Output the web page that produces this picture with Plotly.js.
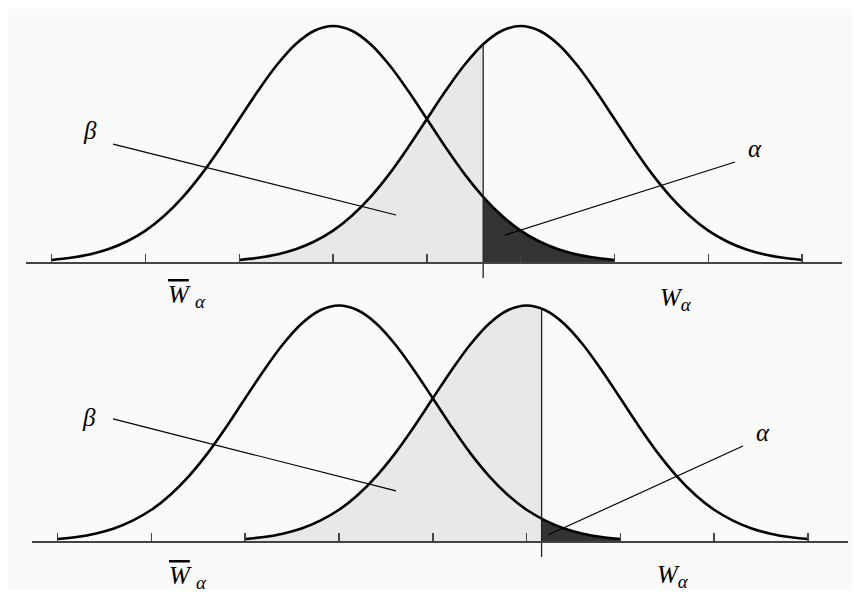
<!DOCTYPE html>
<html>
<head>
<meta charset="utf-8">
<script src="https://cdn.plot.ly/plotly-3.0.1.min.js"></script>
<style>
  html, body { margin: 0; padding: 0; background: #fff; }
  #chart { width: 860px; height: 598px; }
</style>
</head>
<body>
<div id="chart"></div>
<script>
// curve shape: offset from the mean (in sd units) and height relative to the peak
const offsets = [-3.0, -2.8, -2.6, -2.4, -2.2, -2.0, -1.8, -1.6, -1.4, -1.2, -1.0, -0.8, -0.6, -0.4, -0.2,
                 0.0, 0.2, 0.4, 0.6, 0.8, 1.0, 1.2, 1.4, 1.6, 1.8, 2.0, 2.2, 2.4, 2.6, 2.8, 3.0];
const heights = [0.011, 0.020, 0.034, 0.056, 0.089, 0.135, 0.198, 0.278, 0.375, 0.487, 0.607, 0.726, 0.835, 0.923, 0.980,
                 1.000, 0.980, 0.923, 0.835, 0.726, 0.607, 0.487, 0.375, 0.278, 0.198, 0.135, 0.089, 0.056, 0.034, 0.020, 0.011];

// one entry per panel (top, bottom)
const nullMeans = [3, 3];
const altMeans = [5, 5];
const critValues = [4.6, 5.16];
const critAltHeights = [0.923, 0.987];
const critNullHeights = [0.278, 0.097];
const tickValues = [0, 1, 2, 3, 4, 5, 6, 7, 8];

// pointer lines for the beta / alpha labels
const betaLineX = [[0.654, 3.672], [0.591, 3.608]];
const betaLineY = [[0.501, 0.201], [0.520, 0.215]];
const alphaLineX = [[7.285, 4.832], [7.307, 5.228]];
const alphaLineY = [[0.425, 0.116], [0.405, 0.028]];

const W = 860, H = 598;
const px = x => x / W;
const py = y => 1 - y / H;

const traces = [];
const shapes = [{
    type: "rect", xref: "paper", yref: "paper", layer: "below",
    x0: px(8), x1: px(852), y0: py(590), y1: py(9),
    fillcolor: "#fafafa", line: { width: 0 }
}];

for (let p = 0; p < 2; p++) {
    const xa = p === 0 ? "x" : "x2";
    const ya = p === 0 ? "y" : "y2";
    const crit = critValues[p];
    const nullX = offsets.map(o => nullMeans[p] + o);
    const altX = offsets.map(o => altMeans[p] + o);

    // beta: area under the right curve, left of the critical value
    const bx = [], by = [];
    altX.forEach((x, i) => { if (x < crit - 1e-9) { bx.push(x); by.push(heights[i]); } });
    bx.push(crit); by.push(critAltHeights[p]);
    traces.push({
        x: bx, y: by, xaxis: xa, yaxis: ya, type: "scatter", mode: "lines",
        line: { width: 0, shape: "spline" }, fill: "tozeroy", fillcolor: "#e8e8e8", hoverinfo: "skip"
    });

    // alpha: area under the left curve, right of the critical value
    const ax = [crit], ay = [critNullHeights[p]];
    nullX.forEach((x, i) => { if (x > crit + 1e-9) { ax.push(x); ay.push(heights[i]); } });
    traces.push({
        x: ax, y: ay, xaxis: xa, yaxis: ya, type: "scatter", mode: "lines",
        line: { width: 0, shape: "spline" }, fill: "tozeroy", fillcolor: "#333333", hoverinfo: "skip"
    });

    [nullX, altX].forEach(xs => {
        traces.push({
            x: xs, y: heights, xaxis: xa, yaxis: ya, type: "scatter", mode: "lines",
            line: { color: "#000", width: 2.6, shape: "spline" }, hoverinfo: "skip"
        });
    });

    // critical value line
    traces.push({
        x: [crit, crit], y: [-0.065, critAltHeights[p]], xaxis: xa, yaxis: ya,
        type: "scatter", mode: "lines", line: { color: "#222", width: 1.3 }, hoverinfo: "skip"
    });

    [[betaLineX, betaLineY], [alphaLineX, alphaLineY]].forEach(([lx, ly]) => {
        shapes.push({
            type: "line", xref: xa, yref: ya,
            x0: lx[p][0], x1: lx[p][1], y0: ly[p][0], y1: ly[p][1],
            line: { color: "#000", width: 1.2 }
        });
    });
}

const labelFont = { family: "Liberation Serif, Times New Roman, serif", size: 25, color: "#000" };
const wFont = { family: "Liberation Serif, Times New Roman, serif", size: 25, color: "#000" };
const wBar = '<i><span style="text-decoration:overline">W</span> <sub><span style="font-size:19px">α</span></sub></i>';
const wPlain = '<i>W<sub><span style="font-size:19px">α</span></sub></i>';

const annotations = [
    { text: "<i>β</i>", x: px(90), y: py(131), font: labelFont },
    { text: "<i>α</i>", x: px(755), y: py(148), font: labelFont },
    { text: wBar, x: px(187), y: py(296), font: wFont },
    { text: wPlain, x: px(676), y: py(299), font: wFont },
    { text: "<i>β</i>", x: px(89), y: py(417), font: labelFont },
    { text: "<i>α</i>", x: px(763), y: py(432), font: labelFont },
    { text: wBar, x: px(188), y: py(577), font: wFont },
    { text: wPlain, x: px(673), y: py(576), font: wFont }
].map(a => Object.assign({ xref: "paper", yref: "paper", showarrow: false, xanchor: "center", yanchor: "middle" }, a));

const xBase = {
    range: [-0.27, 8.43], anchor: "free", showline: true, linecolor: "#444", linewidth: 2,
    ticks: "inside", ticklen: 8, tickwidth: 1.5, tickcolor: "#444", tickvals: tickValues,
    showticklabels: false, showgrid: false, zeroline: false, fixedrange: true
};
const yBase = { range: [-0.1, 1.05], visible: false, fixedrange: true };

const layout = {
    width: W, height: H,
    margin: { l: 0, r: 0, t: 0, b: 0 },
    paper_bgcolor: "#ffffff", plot_bgcolor: "rgba(0,0,0,0)",
    showlegend: false,
    xaxis: Object.assign({}, xBase, { domain: [px(26.4), px(842.4)], position: py(262.5) }),
    yaxis: Object.assign({}, yBase, { domain: [py(286.2), py(14.2)] }),
    xaxis2: Object.assign({}, xBase, { domain: [px(32.3), px(848.3)], position: py(541.7) }),
    yaxis2: Object.assign({}, yBase, { domain: [py(565.3), py(293.7)] }),
    shapes: shapes,
    annotations: annotations
};

Plotly.newPlot("chart", traces, layout, { displayModeBar: false, staticPlot: true });
</script>
</body>
</html>
